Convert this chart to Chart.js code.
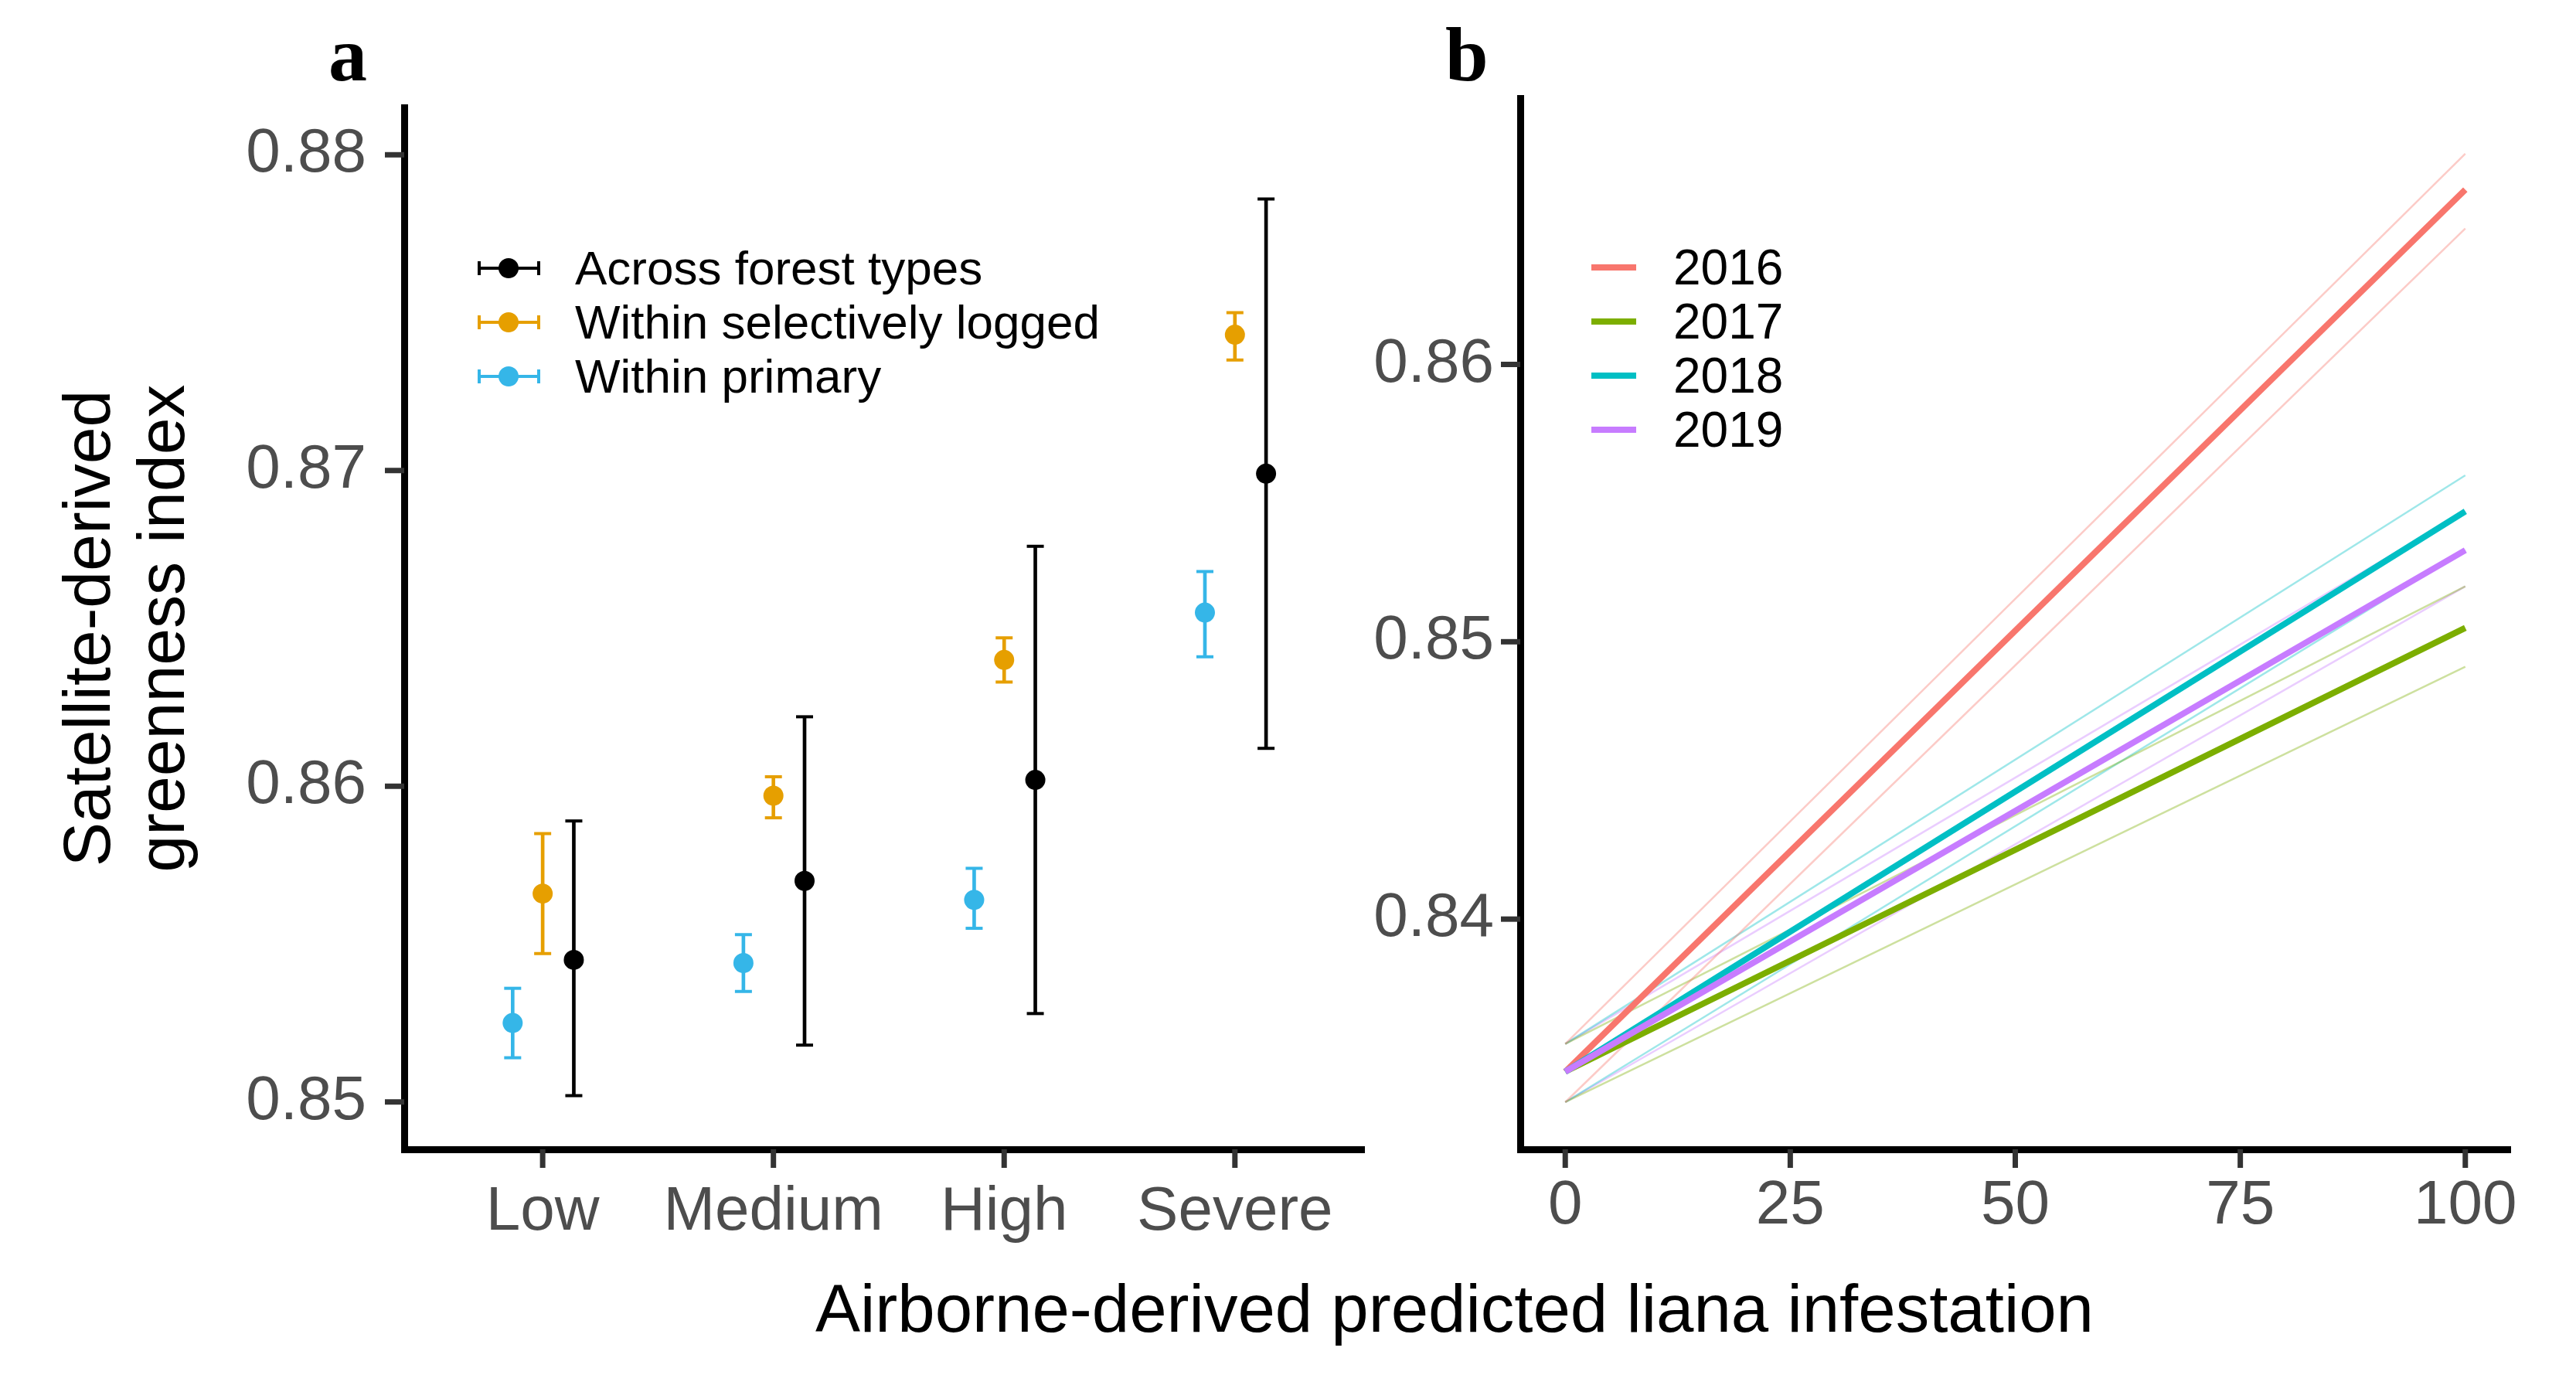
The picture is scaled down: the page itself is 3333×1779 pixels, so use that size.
<!DOCTYPE html>
<html>
<head>
<meta charset="utf-8">
<script src="https://cdn.jsdelivr.net/npm/chart.js@4.4.1/dist/chart.umd.min.js"></script>
<style>
body { margin:0; background:#fff; width:3333px; height:1779px; position:relative; overflow:hidden;
       font-family:"Liberation Sans", Arial, Helvetica, sans-serif; }
canvas { position:absolute; top:0; }
#chartA { left:0; }
#chartB { left:1780px; }
.panel { position:absolute; top:21px; font-family:"Liberation Serif", "Times New Roman", serif;
         font-weight:bold; font-size:100px; line-height:100px; color:#000; }
#xtitle { position:absolute; left:1882px; top:1649px; transform:translateX(-50%); white-space:nowrap;
          font-size:87px; line-height:87px; color:#000; }
.leg { position:absolute; white-space:nowrap; color:#000; }
.key { position:absolute; }
</style>
</head>
<body>
<canvas id="chartA" width="1780" height="1779"></canvas>
<canvas id="chartB" width="1553" height="1779"></canvas>
<div class="panel" style="left:425px">a</div>
<div class="panel" style="left:1870px">b</div>
<div id="xtitle">Airborne-derived predicted liana infestation</div>
<div id="legends"></div>
<script>
// panel a: greenness index by liana infestation class
const categories = ['Low', 'Medium', 'High', 'Severe'];
const acrossMean  = [0.8545, 0.8570, 0.8602, 0.8699];
const acrossLow   = [0.8502, 0.8518, 0.8528, 0.8612];
const acrossHigh  = [0.8589, 0.8622, 0.8676, 0.8786];
const loggedMean  = [0.8566, 0.8597, 0.8640, 0.8743];
const loggedLow   = [0.8547, 0.8590, 0.8633, 0.8735];
const loggedHigh  = [0.8585, 0.8603, 0.8647, 0.8750];
const primaryMean = [0.8525, 0.8544, 0.8564, 0.8655];
const primaryLow  = [0.8514, 0.8535, 0.8555, 0.8641];
const primaryHigh = [0.8536, 0.8553, 0.8574, 0.8668];
const yTicksA = [0.85, 0.86, 0.87, 0.88];

// panel b: fitted lines per year, at x = 0 and x = 100
const years = ['2016', '2017', '2018', '2019'];
const xEnds = [0, 100];
const fitAt0    = [0.8345, 0.8345, 0.8345, 0.8345];
const fitAt100  = [0.8663, 0.8505, 0.8547, 0.8533];
const upperAt0  = [0.8355, 0.8355, 0.8355, 0.8355];
const upperAt100 = [0.8676, 0.8520, 0.8560, 0.8547];
const lowerAt0  = [0.8334, 0.8334, 0.8334, 0.8334];
const lowerAt100 = [0.8649, 0.8491, 0.8533, 0.8520];
const xTicksB = [0, 25, 50, 75, 100];
const yTicksB = [0.84, 0.85, 0.86];

const FAMILY = "'Liberation Sans', Arial, Helvetica, sans-serif";
const TICKGREY = '#4d4d4d';
const groupColors = ['#000000', '#E69F00', '#35B6E8'];
const groupNames = ['Across forest types', 'Within selectively logged', 'Within primary'];
const yearColors = ['#F8766D', '#7CAE00', '#00BFC4', '#C77CFF'];

function rgba(hex, a) {
    const n = parseInt(hex.slice(1), 16);
    return 'rgba(' + (n >> 16) + ',' + ((n >> 8) & 255) + ',' + (n & 255) + ',' + a + ')';
}

// short tick marks outside the axes, at the scale's own tick values
const tickMarks = {
    id: 'tickMarks',
    afterDraw(chart) {
        const ctx = chart.ctx;
        ctx.save();
        ctx.strokeStyle = '#333';
        ctx.lineWidth = 7;
        Object.values(chart.scales).forEach(s => {
            s.ticks.forEach(t => {
                const p = s.getPixelForValue(t.value);
                ctx.beginPath();
                if (s.isHorizontal()) { ctx.moveTo(p, s.top); ctx.lineTo(p, s.top + 24); }
                else { ctx.moveTo(s.right, p); ctx.lineTo(s.right - 25, p); }
                ctx.stroke();
            });
        });
        ctx.restore();
    }
};

const axisStyle = {
    grid: {display: false, drawTicks: false},
    border: {display: true, color: '#000', width: 9}
};

function errorGroup(mean, lo, hi, offset, color) {
    const mid = mean.map((v, i) => ({x: i + 1 + offset, y: v}));
    const bar = lo.map((v, i) => ({x: i + 1 + offset, y: [v, hi[i]]}));
    const caps = lo.map((v, i) => ({x: i + 1 + offset, y: v}))
        .concat(hi.map((v, i) => ({x: i + 1 + offset, y: v})));
    return [
        {type: 'bar', data: bar, backgroundColor: color, borderWidth: 0, barThickness: 4, grouped: false, order: 3},
        {type: 'scatter', data: caps, pointStyle: 'line', pointRadius: 11, borderColor: color, borderWidth: 4, order: 2},
        {type: 'scatter', data: mid, pointRadius: 13, backgroundColor: color, borderWidth: 0, order: 1}
    ];
}

const dodge = [0.135, 0, -0.13];
const datasetsA = [].concat(
    errorGroup(acrossMean, acrossLow, acrossHigh, dodge[0], groupColors[0]),
    errorGroup(loggedMean, loggedLow, loggedHigh, dodge[1], groupColors[1]),
    errorGroup(primaryMean, primaryLow, primaryHigh, dodge[2], groupColors[2])
);

new Chart(document.getElementById('chartA'), {
    type: 'scatter',
    data: {datasets: datasetsA},
    plugins: [tickMarks],
    options: {
        responsive: false, animation: false, events: [],
        layout: {padding: {top: 139, right: 10, left: 0, bottom: 0}},
        plugins: {legend: {display: false}, tooltip: {enabled: false}},
        scales: {
            x: Object.assign({
                type: 'linear', min: 0.4, max: 4.56, offset: false,
                afterBuildTicks: s => { s.ticks = categories.map((c, i) => ({value: i + 1})); },
                afterFit: s => { s.height = 292; },
                ticks: {callback: v => categories[Math.round(v) - 1], autoSkip: false, maxRotation: 0,
                        font: {size: 80, family: FAMILY}, color: TICKGREY, padding: 34}
            }, axisStyle),
            y: Object.assign({
                type: 'linear', min: 0.8485, max: 0.8815,
                afterBuildTicks: s => { s.ticks = yTicksA.map(v => ({value: v})); },
                afterFit: s => { s.width = 523; },
                ticks: {callback: v => v.toFixed(2), font: {size: 80, family: FAMILY}, color: TICKGREY, padding: 49},
                title: {display: true, text: ['Satellite-derived', 'greenness index'], color: '#000',
                        font: {size: 86, family: FAMILY, lineHeight: 1.12}, padding: {top: 70, bottom: 0}}
            }, axisStyle)
        }
    }
});

const datasetsB = [];
years.forEach((yr, i) => {
    datasetsB.push({data: xEnds.map((x, k) => ({x: x, y: [upperAt0[i], upperAt100[i]][k]})),
        borderColor: rgba(yearColors[i], 0.38), borderWidth: 2.5, order: 10});
    datasetsB.push({data: xEnds.map((x, k) => ({x: x, y: [lowerAt0[i], lowerAt100[i]][k]})),
        borderColor: rgba(yearColors[i], 0.38), borderWidth: 2.5, order: 10});
});
years.forEach((yr, i) => {
    datasetsB.push({label: yr, data: xEnds.map((x, k) => ({x: x, y: [fitAt0[i], fitAt100[i]][k]})),
        borderColor: yearColors[i], borderWidth: 8, order: 4 - i});
});

new Chart(document.getElementById('chartB'), {
    type: 'scatter',
    data: {datasets: datasetsB},
    plugins: [tickMarks],
    options: {
        responsive: false, animation: false, events: [],
        showLine: true,
        elements: {point: {radius: 0}, line: {borderCapStyle: 'butt'}},
        layout: {padding: {top: 127, right: 85, left: 0, bottom: 0}},
        plugins: {legend: {display: false}, tooltip: {enabled: false}},
        scales: {
            x: Object.assign({
                type: 'linear', min: -5, max: 105,
                afterBuildTicks: s => { s.ticks = xTicksB.map(v => ({value: v})); },
                afterFit: s => { s.height = 292; },
                ticks: {font: {size: 80, family: FAMILY}, color: TICKGREY, padding: 26, maxRotation: 0}
            }, axisStyle),
            y: Object.assign({
                type: 'linear', min: 0.8317, max: 0.8696,
                afterBuildTicks: s => { s.ticks = yTicksB.map(v => ({value: v})); },
                afterFit: s => { s.width = 187; },
                ticks: {callback: v => v.toFixed(2), font: {size: 80, family: FAMILY}, color: TICKGREY, padding: 34}
            }, axisStyle)
        }
    }
});

// legends, drawn as html next to the plots
const legends = document.getElementById('legends');
const rowsA = [347, 417, 487];
groupNames.forEach((name, i) => {
    const c = groupColors[i], y = rowsA[i];
    legends.insertAdjacentHTML('beforeend',
        `<div class="key" style="left:618px;top:${y - 2}px;width:81px;height:4px;background:${c}"></div>
         <div class="key" style="left:618px;top:${y - 9}px;width:4px;height:18px;background:${c}"></div>
         <div class="key" style="left:695px;top:${y - 9}px;width:4px;height:18px;background:${c}"></div>
         <div class="key" style="left:645px;top:${y - 13}px;width:26px;height:26px;border-radius:50%;background:${c}"></div>
         <div class="leg" style="left:744px;top:${y - 35}px;font-size:62px;line-height:70px">${name}</div>`);
});
const rowsB = [346, 416, 486, 556];
years.forEach((yr, i) => {
    const c = yearColors[i], y = rowsB[i];
    legends.insertAdjacentHTML('beforeend',
        `<div class="key" style="left:2059px;top:${y - 4}px;width:58px;height:8px;background:${c}"></div>
         <div class="leg" style="left:2165px;top:${y - 35}px;font-size:64px;line-height:70px">${yr}</div>`);
});
</script>
</body>
</html>
